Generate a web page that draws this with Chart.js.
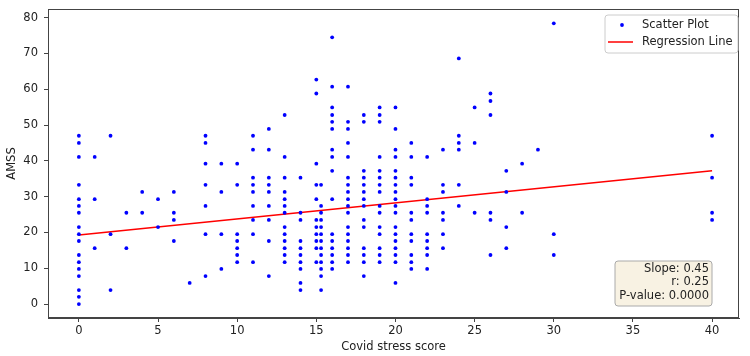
<!DOCTYPE html>
<html>
<head>
    <meta charset="UTF-8">
    <title>AMSS vs Covid stress score</title>
    <style>
        html, body { margin: 0; padding: 0; background: #fff; }
        #wrap { width: 750px; height: 356px; }
    </style>
    <script src="https://cdnjs.cloudflare.com/ajax/libs/Chart.js/4.4.1/chart.umd.min.js"></script>
</head>
<body>
    <div id="wrap"><canvas id="amssChart"></canvas></div>

    <script>
        // covid stress score columns and the AMSS values seen in each one
        const stressScores = [0, 1, 2, 3, 4, 5, 6, 7, 8, 9, 10, 11, 12, 13, 14, 15, 15.3, 16, 17, 18, 19, 20, 21, 22, 23, 24, 25, 26, 27, 28, 29, 30, 40];
        const amssByScore = [
            [47.0, 45.0, 41.1, 33.3, 29.3, 27.4, 25.5, 21.5, 19.5, 17.6, 13.7, 11.7, 9.8, 7.8, 3.9, 2.0, 0],
            [41.1, 29.3, 15.6],
            [47.0, 19.5, 3.9],
            [25.5, 15.6],
            [31.3, 25.5],
            [29.3, 21.5],
            [31.3, 25.5, 23.5, 17.6],
            [5.9],
            [47.0, 45.0, 39.2, 33.3, 27.4, 19.5, 7.8],
            [39.2, 31.3, 19.5, 9.8],
            [39.2, 33.3, 19.5, 17.6, 15.6, 13.7, 11.7],
            [47.0, 43.1, 35.3, 33.3, 31.3, 27.4, 23.5, 19.5, 11.7],
            [48.9, 43.1, 35.3, 33.3, 31.3, 27.4, 23.5, 17.6, 7.8],
            [52.8, 41.1, 35.3, 31.3, 29.3, 27.4, 25.5, 21.5, 19.5, 17.6, 15.6, 13.7, 11.7],
            [35.3, 25.5, 23.5, 17.6, 15.6, 13.7, 11.7, 9.8, 5.9, 3.9],
            [62.7, 58.8, 39.2, 33.3, 29.3, 23.5, 21.5, 19.5, 17.6, 15.6, 11.7],
            [33.3, 27.4, 25.5, 23.5, 21.5, 19.5, 17.6, 15.6, 13.7, 11.7, 9.8, 7.8, 3.9],
            [74.5, 60.7, 54.9, 52.8, 50.9, 48.9, 43.1, 41.1, 37.2, 29.3, 19.5, 17.6, 15.6, 13.7, 11.7, 9.8],
            [60.7, 50.9, 48.9, 45.0, 41.1, 35.3, 33.3, 31.3, 29.3, 27.4, 25.5, 21.5, 19.5, 17.6, 15.6, 13.7, 11.7],
            [52.8, 50.9, 37.2, 35.3, 33.3, 31.3, 29.3, 27.4, 23.5, 21.5, 15.6, 13.7, 11.7, 7.8],
            [54.9, 52.8, 50.9, 41.1, 37.2, 35.3, 33.3, 31.3, 27.4, 25.5, 21.5, 19.5, 15.6, 13.7, 11.7],
            [54.9, 48.9, 43.1, 41.1, 37.2, 35.3, 33.3, 31.3, 29.3, 27.4, 25.5, 21.5, 19.5, 17.6, 15.6, 13.7, 11.7, 5.9],
            [45.0, 41.1, 35.3, 33.3, 25.5, 23.5, 19.5, 17.6, 13.7, 11.7, 9.8],
            [41.1, 29.3, 27.4, 25.5, 19.5, 17.6, 15.6, 13.7, 9.8],
            [43.1, 33.3, 31.3, 25.5, 23.5, 19.5, 15.6],
            [68.6, 47.0, 45.0, 43.1, 33.3, 27.4],
            [54.9, 45.0, 25.5],
            [58.8, 56.7, 52.8, 25.5, 23.5, 13.7],
            [37.2, 31.3, 21.5, 15.6],
            [39.2, 25.5],
            [43.1],
            [78.4, 19.5, 13.7],
            [47.0, 35.3, 25.5, 23.5],
        ];

        // fitted line ends
        const regressionX = [0, 40];
        const regressionY = [19.3, 37.2];
        const statsLines = ["Slope: 0.45", "r: 0.25", "P-value: 0.0000"];

        const xTicks = [0, 5, 10, 15, 20, 25, 30, 35, 40];
        const yTicks = [0, 10, 20, 30, 40, 50, 60, 70, 80];

        const FONT = "DejaVu Sans";
        const FS = 11.5;
        const AXIS_COLOR = "#444";
        const TEXT_COLOR = "#222";

        const scatterPoints = [];
        stressScores.forEach((s, i) => {
            amssByScore[i].forEach(v => scatterPoints.push({ x: s, y: v }));
        });
        const regressionPoints = regressionX.map((x, i) => ({ x: x, y: regressionY[i] }));

        // frame on all four sides, legend and stats box inside the plot
        const overlayPlugin = {
            id: "overlay",
            afterDatasetsDraw(chart) {
                const { ctx, chartArea: a } = chart;
                ctx.save();
                ctx.strokeStyle = AXIS_COLOR;
                ctx.lineWidth = 1;
                ctx.strokeRect(a.left + 0.5, a.top + 0.5, a.right - a.left - 1, a.bottom - a.top - 1);

                ctx.font = FS + "px '" + FONT + "'";
                ctx.textBaseline = "middle";

                // legend box
                const lx = a.right - 134, ly = a.top + 6, lw = 133, lh = 38;
                roundRect(ctx, lx, ly, lw, lh, 3);
                ctx.fillStyle = "rgba(255,255,255,0.85)";
                ctx.fill();
                ctx.strokeStyle = "#cccccc";
                ctx.stroke();

                ctx.fillStyle = "blue";
                ctx.beginPath();
                ctx.arc(lx + 17, ly + 10, 1.9, 0, Math.PI * 2);
                ctx.fill();
                ctx.fillStyle = TEXT_COLOR;
                ctx.textAlign = "left";
                ctx.fillText("Scatter Plot", lx + 37, ly + 10);

                ctx.strokeStyle = "red";
                ctx.lineWidth = 1.5;
                ctx.beginPath();
                ctx.moveTo(lx + 3, ly + 27);
                ctx.lineTo(lx + 28, ly + 27);
                ctx.stroke();
                ctx.fillText("Regression Line", lx + 37, ly + 27);

                // stats box
                const bx = a.right - 124, by = a.bottom - 57, bw = 97, bh = 45;
                roundRect(ctx, bx, by, bw, bh, 3);
                ctx.fillStyle = "#f8f2e3";
                ctx.fill();
                ctx.strokeStyle = "#aaaaaa";
                ctx.lineWidth = 1;
                ctx.stroke();
                ctx.fillStyle = TEXT_COLOR;
                ctx.textAlign = "right";
                statsLines.forEach((t, i) => ctx.fillText(t, bx + bw - 3, by + 8 + i * 13.5));
                ctx.restore();
            }
        };

        function roundRect(ctx, x, y, w, h, r) {
            ctx.beginPath();
            ctx.moveTo(x + r, y);
            ctx.lineTo(x + w - r, y);
            ctx.arcTo(x + w, y, x + w, y + r, r);
            ctx.lineTo(x + w, y + h - r);
            ctx.arcTo(x + w, y + h, x + w - r, y + h, r);
            ctx.lineTo(x + r, y + h);
            ctx.arcTo(x, y + h, x, y + h - r, r);
            ctx.lineTo(x, y + r);
            ctx.arcTo(x, y, x + r, y, r);
            ctx.closePath();
        }

        const tickFont = { family: FONT, size: FS };

        const ctx = document.getElementById("amssChart").getContext("2d");
        const amssChart = new Chart(ctx, {
            type: "scatter",
            data: {
                datasets: [
                    { label: "Scatter Plot", data: scatterPoints, backgroundColor: "blue", borderWidth: 0, pointRadius: 1.9 },
                    { label: "Regression Line", data: regressionPoints, showLine: true, borderColor: "red", borderWidth: 1.5, pointRadius: 0, fill: false },
                ],
            },
            options: {
                responsive: true,
                maintainAspectRatio: false,
                animation: false,
                layout: { padding: { top: 9, right: 11, left: 0, bottom: 0 } },
                plugins: { legend: { display: false }, tooltip: { enabled: false } },
                scales: {
                    x: {
                        type: "linear",
                        min: -1.95,
                        max: 41.7,
                        afterBuildTicks: s => { s.ticks = xTicks.map(v => ({ value: v })); },
                        afterFit: s => { s.height = 38; s.paddingLeft = 0; s.paddingRight = 0; },
                        grid: { drawOnChartArea: false, drawTicks: true, tickLength: 4, color: AXIS_COLOR },
                        border: { color: AXIS_COLOR },
                        ticks: { color: TEXT_COLOR, font: tickFont, padding: 2, maxRotation: 0, autoSkip: false },
                        title: { display: true, text: "Covid stress score", color: TEXT_COLOR, font: tickFont, padding: { top: 0, bottom: 2 } },
                    },
                    y: {
                        type: "linear",
                        min: -3.9,
                        max: 82.4,
                        afterBuildTicks: s => { s.ticks = yTicks.map(v => ({ value: v })); },
                        afterFit: s => { s.width = 48; s.paddingTop = 0; s.paddingBottom = 0; },
                        grid: { drawOnChartArea: false, drawTicks: true, tickLength: 4, color: AXIS_COLOR },
                        border: { color: AXIS_COLOR },
                        ticks: { color: TEXT_COLOR, font: tickFont, padding: 6, autoSkip: false },
                        title: { display: true, text: "AMSS", color: TEXT_COLOR, font: tickFont, padding: { top: 5, bottom: 0 } },
                    },
                },
            },
            plugins: [overlayPlugin],
        });
    </script>
</body>
</html>
